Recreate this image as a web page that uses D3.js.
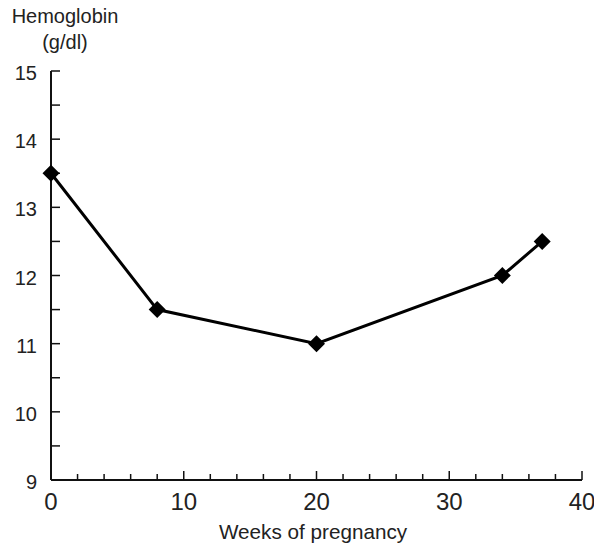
<!DOCTYPE html>
<html><head><meta charset="utf-8">
<script src="https://cdn.jsdelivr.net/npm/d3@7/dist/d3.min.js"></script>
<style>body{margin:0;background:#fff}text{font-family:"Liberation Sans",Arial,sans-serif;fill:#222}</style>
</head><body>
<svg id="c" width="594" height="548"></svg>
<script>
const weeks = [0, 8, 20, 34, 37];
const hemoglobin = [13.5, 11.5, 11, 12, 12.5];
const xTicks = [0, 10, 20, 30, 40];
const yTicks = [9, 10, 11, 12, 13, 14, 15];
const yTitle = ["Hemoglobin", "(g/dl)"];
const xTitle = "Weeks of pregnancy";

const svg = d3.select("#c");
const x = d3.scaleLinear().domain([0, 40]).range([51, 582]);
const y = d3.scaleLinear().domain([9, 15]).range([480, 71]);

// axes
const gx = svg.append("g").attr("transform", `translate(0,${y(9)})`);
gx.append("line").attr("x1", x(0)).attr("x2", x(40)).attr("stroke", "#111").attr("stroke-width", 2);
gx.selectAll("line.t").data(d3.range(0, 41, 2)).join("line").attr("class", "t")
  .attr("x1", d => x(d)).attr("x2", d => x(d)).attr("y1", 0)
  .attr("y2", d => d % 10 === 0 ? -9 : -6).attr("stroke", "#111").attr("stroke-width", 1.5);
gx.selectAll("text").data(xTicks).join("text")
  .attr("x", d => x(d)).attr("y", 30).attr("text-anchor", "middle")
  .style("font-size", "24px").text(d => d);

const gy = svg.append("g").attr("transform", `translate(${x(0)},0)`);
gy.append("line").attr("y1", y(9)).attr("y2", y(15)).attr("stroke", "#111").attr("stroke-width", 2);
gy.selectAll("line.t").data(d3.range(9, 15.01, 0.5)).join("line").attr("class", "t")
  .attr("y1", d => y(d)).attr("y2", d => y(d)).attr("x1", 0).attr("x2", 9)
  .attr("stroke", "#111").attr("stroke-width", 1.5);
gy.selectAll("text").data(yTicks).join("text")
  .attr("x", -14).attr("y", d => y(d) + 9).attr("text-anchor", "end")
  .style("font-size", "20px").text(d => d);

svg.selectAll("text.yt").data(yTitle).join("text").attr("class", "yt")
  .attr("x", 65).attr("y", (d, i) => 23 + i * 26)
  .attr("text-anchor", "middle").style("font-size", "20px").text(d => d);

svg.append("text").attr("x", 313).attr("y", 539).attr("text-anchor", "middle")
  .style("font-size", "20.7px").text(xTitle);

// line
const pts = weeks.map((w, i) => [w, hemoglobin[i]]);
svg.append("path").datum(pts)
  .attr("d", d3.line().x(d => x(d[0])).y(d => y(d[1])))
  .attr("fill", "none").attr("stroke", "#000").attr("stroke-width", 3);

svg.selectAll("path.m").data(pts).join("path").attr("class", "m")
  .attr("transform", d => `translate(${x(d[0])},${y(d[1])})`)
  .attr("d", "M0,-8.5L8.5,0L0,8.5L-8.5,0Z").attr("fill", "#000");
</script>
</body></html>
